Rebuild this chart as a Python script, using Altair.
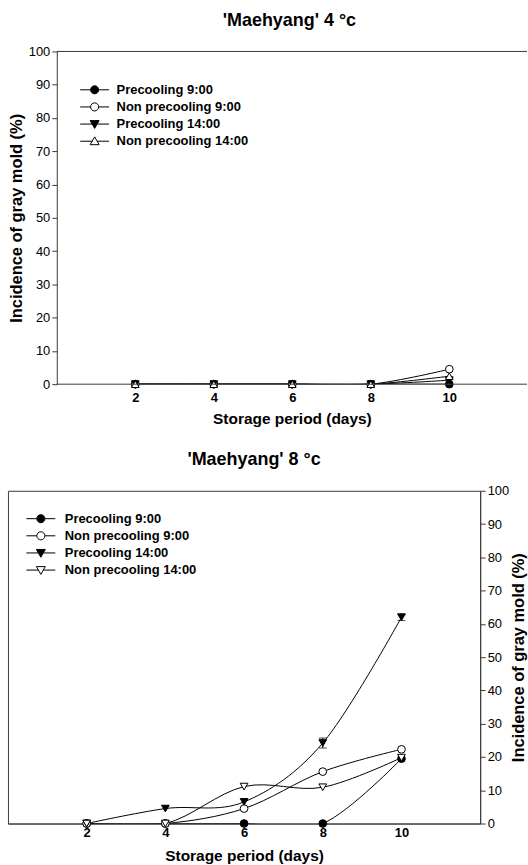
import altair as alt
import pandas as pd

# ---------------- data ----------------
days = [2, 4, 6, 8, 10]
series_names = ["Precooling 9:00", "Non precooling 9:00", "Precooling 14:00", "Non precooling 14:00"]

# 'Maehyang' 4 oC
top_p9 = [0, 0, 0, 0, 0]
top_np9 = [0, 0, 0, 0, 4.5]
top_p14 = [0, 0, 0, 0, 1.2]
top_np14 = [0, 0, 0, 0, 2.4]

# 'Maehyang' 8 oC
bot_p9 = [0, 0, 0, 0, 19.5]
bot_np9 = [0, 0, 4.5, 15.6, 22.3]
bot_p14 = [0, 4.5, 6.5, 24.2, 62.0]
bot_np14 = [0, 0, 11.1, 10.9, 19.8]
bot_p14_err = [0, 0, 0, 1.5, 1.0]

y_ticks = [0, 10, 20, 30, 40, 50, 60, 70, 80, 90, 100]
x_ticks = [2, 4, 6, 8, 10]

FONT = "Liberation Sans"
AX = "#3a3a3a"
fills = ["black", "white", "black", "white"]

# legend symbols: line + marker (custom unit paths)
P_CIRCLE = "M-1,0H-0.28M0.28,0H1M-0.28,0A0.28,0.28,0,1,0,0.28,0A0.28,0.28,0,1,0,-0.28,0Z"
P_TDOWN = "M-1,0H-0.17M0.17,0H1M-0.31,-0.24L0.31,-0.24L0,0.3Z"
P_TUP = "M-1,0H-0.17M0.17,0H1M-0.31,0.24L0.31,0.24L0,-0.3Z"

H = 334          # plot height
PX_DAY = 39.4    # pixels per day


def long_df(vals_list):
    rows = []
    for s, vals in zip(series_names, vals_list):
        for d, v in zip(days, vals):
            rows.append({"day": d, "value": v, "series": s})
    return pd.DataFrame(rows)


def panel(df, width, x_domain, inset, last_shape, last_path, y_orient, title_text,
          title_dx, title_offset, legend_x, legend_y, label_offset, frame,
          x_title_x, x_label_pad, x_title_y, err_df=None):
    xs = alt.Scale(domain=x_domain, nice=False, zero=False)
    ys = alt.Scale(domain=[0, 100], nice=False)
    x_axis = alt.Axis(values=x_ticks, ticks=False, labelPadding=x_label_pad, grid=False,
                      labelFont=FONT, labelFontSize=13, labelFontWeight="bold",
                      labelColor="black", domainColor=AX, domain=frame,
                      title="Storage period (days)", titleFont=FONT,
                      titleFontSize=15.5, titleFontWeight="bold", titleColor="black",
                      titleX=x_title_x, titleY=x_title_y, titleBaseline="top")
    ya = dict(orient=y_orient, values=y_ticks, tickSize=5, tickColor=AX,
              labelPadding=2, grid=False, labelFont=FONT, labelFontSize=13,
              labelColor="black", domainColor=AX,
              title="Incidence of gray mold (%)", titleFont=FONT,
              titleFontSize=16.5, titleFontWeight="bold", titleColor="black",
              titleAngle=270)
    if y_orient == "left":
        ya.update(offset=-inset, titlePadding=4)
    else:
        ya.update(titlePadding=2, titleBaseline="top")
    y_axis = alt.Axis(**ya)
    X = alt.X("day:Q", scale=xs, axis=x_axis, title="Storage period (days)")
    Y = alt.Y("value:Q", scale=ys, axis=y_axis, title="Incidence of gray mold (%)")

    base = alt.Chart(df)
    lines = base.mark_line(interpolate="cardinal", color="black", strokeWidth=1,
                           clip=True).encode(
        x=X, y=Y, detail="series:N", order="day:Q",
    )
    shapes = ["circle", "circle", "triangle-down", last_shape]
    points = base.mark_point(filled=True, size=60, stroke="black", strokeWidth=1,
                             opacity=1).encode(
        x=X, y=Y,
        shape=alt.Shape("series:N", scale=alt.Scale(domain=series_names, range=shapes),
                        legend=None),
        fill=alt.Fill("series:N", scale=alt.Scale(domain=series_names, range=fills),
                      legend=None),
    )
    leg = alt.Legend(orient="none", legendX=legend_x, legendY=legend_y, title=None,
                     labelFont=FONT, labelFontSize=13, labelFontWeight="bold",
                     labelColor="black", symbolSize=841, symbolStrokeWidth=1,
                     symbolStrokeColor="black", clipHeight=13, rowPadding=3.2,
                     labelOffset=label_offset, padding=0, symbolOpacity=1,
                     labelLimit=300)
    legend_layer = base.transform_calculate(lseries="datum.series").transform_filter(
        "false").mark_point(filled=True, size=841, strokeWidth=1, opacity=1).encode(
        x=X, y=Y,
        shape=alt.Shape("lseries:N", scale=alt.Scale(
            domain=series_names, range=[P_CIRCLE, P_CIRCLE, P_TDOWN, last_path]),
            legend=leg),
        fill=alt.Fill("lseries:N", scale=alt.Scale(domain=series_names, range=fills),
                      legend=leg),
        stroke=alt.Stroke("lseries:N", scale=alt.Scale(domain=series_names,
                                                       range=["black"] * 4),
                          legend=leg),
    )

    layers = [lines]
    if err_df is not None:
        ebase = alt.Chart(err_df)
        Ylo = alt.Y("lo:Q", scale=ys, axis=y_axis, title="Incidence of gray mold (%)")
        Yhi = alt.Y("hi:Q", scale=ys, axis=y_axis, title="Incidence of gray mold (%)")
        layers.append(ebase.mark_rule(color="black", strokeWidth=1).encode(
            x=X, y=Ylo, y2="hi:Q"))
        layers.append(ebase.mark_tick(color="black", orient="horizontal", size=8,
                                      thickness=1).encode(x=X, y=Ylo))
        layers.append(ebase.mark_tick(color="black", orient="horizontal", size=8,
                                      thickness=1).encode(x=X, y=Yhi))
    layers += [points, legend_layer]

    if not frame:
        one = pd.DataFrame({"k": [0]})
        top_border = alt.Chart(one).mark_rule(color=AX, strokeWidth=1).encode(
            x=alt.value(inset), x2=alt.value(width), y=alt.value(0))
        bottom_border = alt.Chart(one).mark_rule(color=AX, strokeWidth=1).encode(
            x=alt.value(inset), x2=alt.value(width), y=alt.value(H))
        layers += [top_border, bottom_border]

    ch = alt.layer(*layers).resolve_scale(shape="independent", fill="independent",
                                          stroke="independent")
    view = alt.ViewBackground(stroke=AX, strokeWidth=1) if frame else alt.ViewBackground(stroke=None)
    return ch.properties(
        width=width, height=H, view=view,
        title=alt.Title(title_text, font=FONT, fontSize=18, fontWeight="bold",
                        color="black", frame="group", dx=title_dx,
                        offset=title_offset),
    )


top_df = long_df([top_p9, top_np9, top_p14, top_np14])
bot_df = long_df([bot_p9, bot_np9, bot_p14, bot_np14])

err_rows = []
for d, v, e in zip(days, bot_p14, bot_p14_err):
    if e > 0:
        err_rows.append({"day": d, "lo": v - e, "hi": v + e})
err_df = pd.DataFrame(err_rows)

TOP_W = 521
TOP_INSET = 49
BOT_W = 474
top_domain = [-TOP_INSET / PX_DAY, (TOP_W - TOP_INSET) / PX_DAY]

top = panel(top_df, TOP_W, top_domain, TOP_INSET, "triangle-up", P_TUP, "left",
            "'Maehyang' 4 °c", 22, 16, 72, 32, 7, frame=False,
            x_title_x=TOP_INSET + 236, x_label_pad=7, x_title_y=27)
bottom = panel(bot_df, BOT_W, [0, 12], 0, "triangle-down", P_TDOWN, "right",
               "'Maehyang' 8 °c", 10, 16, 18, 21.5, 9, frame=True,
               x_title_x=BOT_W / 2, x_label_pad=3, x_title_y=25, err_df=err_df)

chart = alt.vconcat(top, bottom, spacing=23).resolve_scale(
    shape="independent", fill="independent", stroke="independent",
    x="independent", y="independent"
).properties(
    padding={"left": 7, "top": 10, "right": 0, "bottom": 0}
).configure_view(stroke=None)

chart.save("out.html", embed_options={"renderer": "svg", "actions": False})
